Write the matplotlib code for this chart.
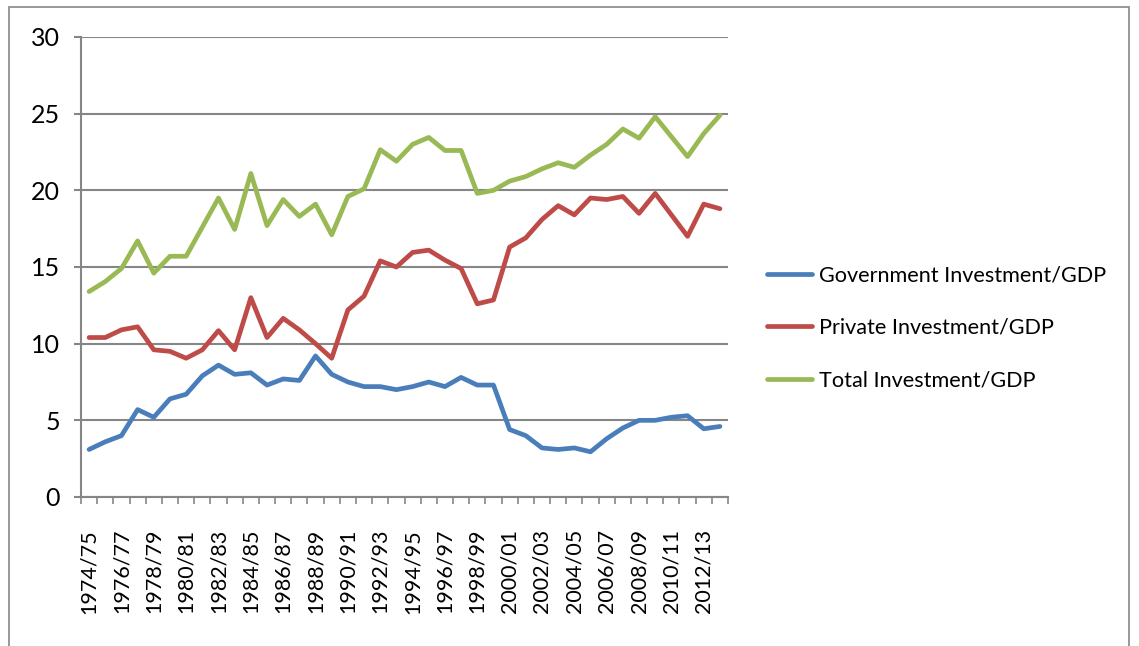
import numpy as np
import matplotlib
matplotlib.use("Agg")
import matplotlib.pyplot as plt
from matplotlib.patches import Rectangle

plt.rcParams['font.family'] = ['Lato', 'DejaVu Sans']

# fiscal years
years = ['1974/75', '1975/76', '1976/77', '1977/78', '1978/79', '1979/80',
         '1980/81', '1981/82', '1982/83', '1983/84', '1984/85', '1985/86',
         '1986/87', '1987/88', '1988/89', '1989/90', '1990/91', '1991/92',
         '1992/93', '1993/94', '1994/95', '1995/96', '1996/97', '1997/98',
         '1998/99', '1999/00', '2000/01', '2001/02', '2002/03', '2003/04',
         '2004/05', '2005/06', '2006/07', '2007/08', '2008/09', '2009/10',
         '2010/11', '2011/12', '2012/13', '2013/14']

gov = [3.1, 3.6, 4.0, 5.7, 5.2, 6.4, 6.7, 7.9, 8.6, 8.0,
       8.1, 7.3, 7.7, 7.6, 9.2, 8.0, 7.5, 7.2, 7.2, 7.0,
       7.2, 7.5, 7.2, 7.8, 7.3, 7.3, 4.4, 4.0, 3.2, 3.1,
       3.2, 2.95, 3.8, 4.5, 5.0, 5.0, 5.2, 5.3, 4.45, 4.6]

private = [10.4, 10.4, 10.9, 11.1, 9.6, 9.5, 9.05, 9.6, 10.85, 9.6,
           13.0, 10.4, 11.65, 10.9, 10.0, 9.05, 12.2, 13.1, 15.4, 15.0,
           15.95, 16.1, 15.45, 14.9, 12.6, 12.85, 16.3, 16.9, 18.1, 19.0,
           18.4, 19.5, 19.4, 19.6, 18.5, 19.8, 18.4, 17.0, 19.1, 18.8]

total = [13.4, 14.05, 14.9, 16.7, 14.6, 15.7, 15.7, 17.6, 19.5, 17.45,
         21.1, 17.7, 19.4, 18.3, 19.1, 17.1, 19.6, 20.1, 22.65, 21.9,
         23.0, 23.45, 22.6, 22.6, 19.8, 20.0, 20.6, 20.9, 21.4, 21.8,
         21.5, 22.3, 23.0, 24.0, 23.4, 24.8, 23.5, 22.2, 23.7, 24.9]

grey = '#868686'

fig = plt.figure(figsize=(11.39, 6.46), dpi=100)
ax = fig.add_axes([81/1139, 1-497/646, (728-81)/1139, (497-37)/646])

x = np.arange(len(years))
ax.plot(x, gov, color='#4A7EBB', lw=3.4, label='Government Investment/GDP', solid_capstyle='round')
ax.plot(x, private, color='#BE4B48', lw=3.4, label='Private Investment/GDP', solid_capstyle='round')
ax.plot(x, total, color='#98B954', lw=3.4, label='Total Investment/GDP', solid_capstyle='round')

ax.set_xlim(-0.5, len(years)-0.5)
ax.set_ylim(0, 30)
ax.set_yticks(range(0, 31, 5))
ax.yaxis.grid(True, color=grey, lw=1.5)
ax.set_axisbelow(True)
for s in ['top', 'right']:
    ax.spines[s].set_visible(False)
for s in ['left', 'bottom']:
    ax.spines[s].set_color(grey)
    ax.spines[s].set_linewidth(1.5)

ax.tick_params(axis='y', length=5, width=1.5, color=grey, pad=10, labelsize=18)

# category labels every other year, tick marks between categories
ax.set_xticks(x[::2])
ax.set_xticklabels(years[::2], rotation=90, fontsize=15.5)
ax.set_xticks(np.arange(-0.5, len(years), 1.0), minor=True)
ax.tick_params(axis='x', which='major', length=0, pad=23)
ax.tick_params(axis='x', which='minor', length=5, width=1.2, color=grey)

ax.legend(loc='center left', bbox_to_anchor=(758/1139, 1-328/646),
          bbox_transform=fig.transFigure, frameon=False, borderaxespad=0,
          fontsize=15.6, handlelength=2.1, handletextpad=0.3, labelspacing=1.5)

# outer chart border
fig.add_artist(Rectangle((9/1139, -0.05), (1129-9)/1139, 1.05-7/646,
                         transform=fig.transFigure, fill=False, ec=grey, lw=1.2))

fig.savefig('out.png', dpi=100)
